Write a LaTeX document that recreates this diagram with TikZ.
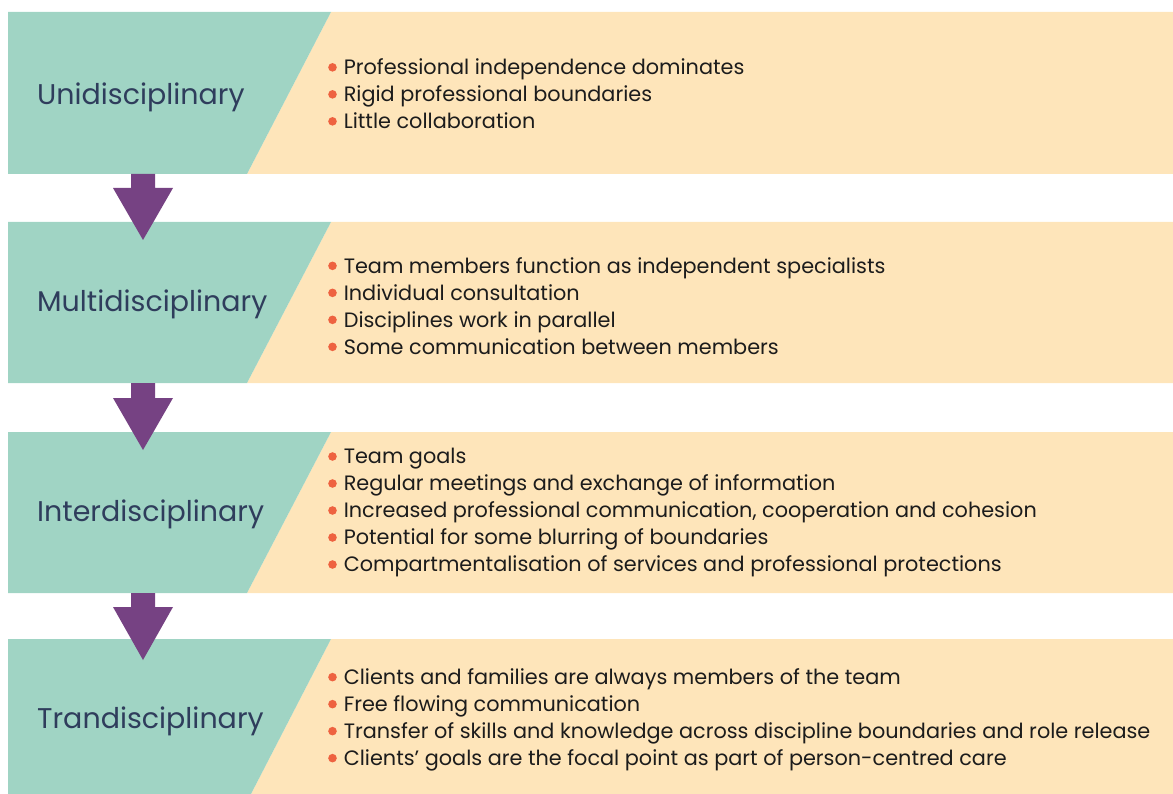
\documentclass[tikz,border=0pt]{standalone}
\usepackage{fontspec}
\setmainfont{Poppins}
\usepackage{tikz}
\usetikzlibrary{positioning}

\definecolor{tealband}{HTML}{A0D4C4}
\definecolor{beigeband}{HTML}{FEE5BA}
\definecolor{arrowpurple}{HTML}{764283}
\definecolor{titlenavy}{HTML}{2F3D5C}
\definecolor{bodytext}{HTML}{1C1C1C}
\definecolor{bulletred}{HTML}{EE6240}

% orange dot in front of each point
\newcommand{\itm}{\tikz[baseline]\fill[bulletred] (4.3pt,7.5pt) circle (4.3pt);\hspace{7pt}}

\tikzset{
  bandtitle/.style={anchor=west, inner sep=0pt, text=titlenavy, font=\fontsize{28.5}{32}\selectfont},
  bandpoints/.style={anchor=west, inner sep=0pt, align=left, text=bodytext, font=\fontsize{20.8}{27}\selectfont},
  downarrow/.style={fill=arrowpurple},
}

\begin{document}
\begin{tikzpicture}[x=1pt, y=-1pt]
  \useasboundingbox (0,0) rectangle (1173,794);

  % Unidisciplinary band
  \fill[beigeband] (331,12) -- (1173,12) -- (1173,174) -- (247,174) -- cycle;
  \fill[tealband] (8,12) -- (331,12) -- (247,174) -- (8,174) -- cycle;
  \node[bandtitle] (uni) at (37,97) {Unidisciplinary};
  \node[bandpoints] (unipts) at (328,94) {\itm Professional independence dominates\\
    \itm Rigid professional boundaries\\
    \itm Little collaboration};

  % Multidisciplinary band
  \fill[beigeband] (331,222) -- (1173,222) -- (1173,383) -- (247,383) -- cycle;
  \fill[tealband] (8,222) -- (331,222) -- (247,383) -- (8,383) -- cycle;
  \node[bandtitle] (multi) at (37,304) {Multidisciplinary};
  \node[bandpoints] (multipts) at (328,306) {\itm Team members function as independent specialists\\
    \itm Individual consultation\\
    \itm Disciplines work in parallel\\
    \itm Some communication between members};

  % Interdisciplinary band
  \fill[beigeband] (331,432) -- (1173,432) -- (1173,593) -- (247,593) -- cycle;
  \fill[tealband] (8,432) -- (331,432) -- (247,593) -- (8,593) -- cycle;
  \node[bandtitle] (inter) at (37,514) {Interdisciplinary};
  \node[bandpoints] (interpts) at (328,513) {\itm Team goals\\
    \itm Regular meetings and exchange of information\\
    \itm Increased professional communication, cooperation and cohesion\\
    \itm Potential for some blurring of boundaries\\
    \itm Compartmentalisation of services and professional protections};

  % Trandisciplinary band
  \fill[beigeband] (331,639) -- (1173,639) -- (1173,794) -- (251,794) -- cycle;
  \fill[tealband] (8,639) -- (331,639) -- (251,794) -- (8,794) -- cycle;
  \node[bandtitle] (trans) at (37,721) {Trandisciplinary};
  \node[bandpoints] (transpts) at (328,720) {\itm Clients and families are always members of the team\\
    \itm Free flowing communication\\
    \itm Transfer of skills and knowledge across discipline boundaries and role release\\
    \itm Clients' goals are the focal point as part of person-centred care};

  % Arrows between bands
  \fill[downarrow] (131,174) -- (155,174) -- (155,188) -- (173,188) -- (143,240) -- (113,188) -- (131,188) -- cycle;
  \fill[downarrow] (131,383) -- (155,383) -- (155,398) -- (173,398) -- (143,450) -- (113,398) -- (131,398) -- cycle;
  \fill[downarrow] (131,593) -- (155,593) -- (155,607) -- (173,607) -- (143,660) -- (113,607) -- (131,607) -- cycle;
\end{tikzpicture}
\end{document}
